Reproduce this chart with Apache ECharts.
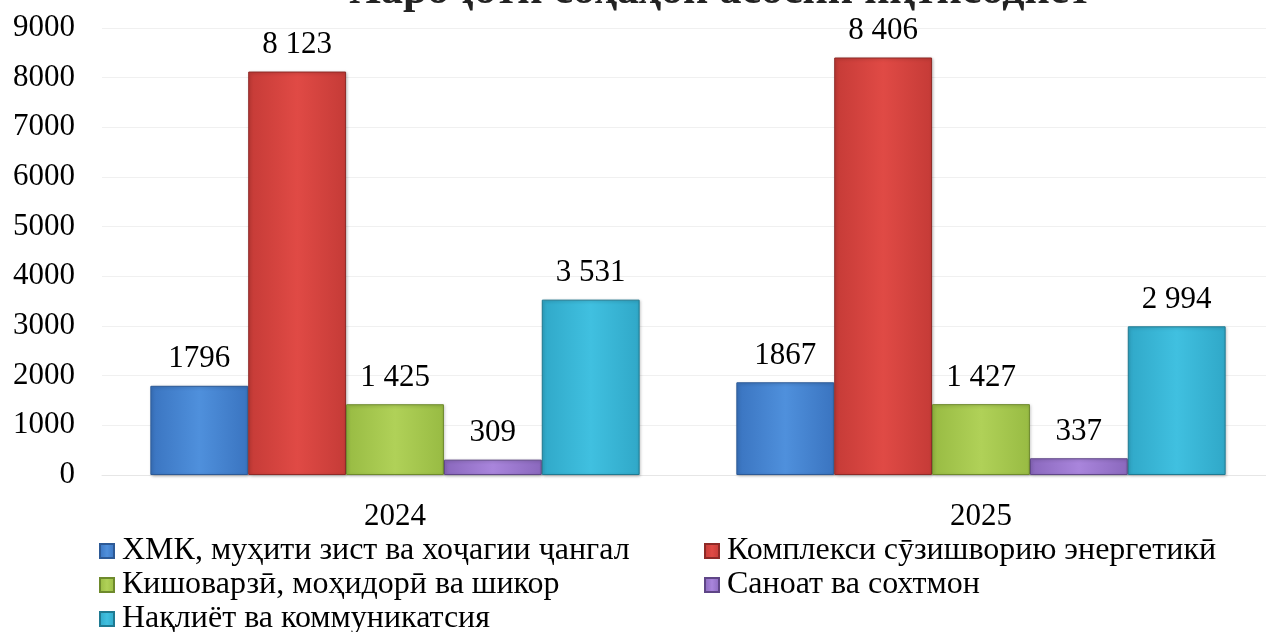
<!DOCTYPE html>
<html><head><meta charset="utf-8">
<script src="https://cdn.jsdelivr.net/npm/echarts@6/dist/echarts.min.js"></script>
<style>html,body{margin:0;padding:0;background:#fff;overflow:hidden}#c{width:1290px;height:632px}</style>
</head><body><div id="c"></div>
<script>
const titleText = 'Хароҷоти соҳаҳои асосии иқтисодиёт';
const categories = ['2024', '2025'];
const seriesNames = [
  'ХМК, муҳити зист ва хоҷагии ҷангал',
  'Комплекси сӯзишворию энергетикӣ',
  'Кишоварзӣ, моҳидорӣ ва шикор',
  'Саноат ва сохтмон',
  'Нақлиёт ва коммуникатсия'
];
const hmkValues = [1796, 1867];
const energyValues = [8123, 8406];
const agriValues = [1425, 1427];
const industryValues = [309, 337];
const transportValues = [3531, 2994];
const hmkLabels = ['1796', '1867'];
const energyLabels = ['8 123', '8 406'];
const agriLabels = ['1 425', '1 427'];
const industryLabels = ['309', '337'];
const transportLabels = ['3 531', '2 994'];
const yTicks = [0, 1000, 2000, 3000, 4000, 5000, 6000, 7000, 8000, 9000];

const colors = [
  ['#4f90dc', '#3a74c0', '#2d5a96'],
  ['#e04a45', '#c53b37', '#8e2a27'],
  ['#b0d158', '#98bb43', '#6e8a2c'],
  ['#a985dc', '#8a68bd', '#5f4687'],
  ['#40c0e0', '#30a8c8', '#1f7a92']
];
const values = [hmkValues, energyValues, agriValues, industryValues, transportValues];
const labels = [hmkLabels, energyLabels, agriLabels, industryLabels, transportLabels];
const font = '"Liberation Serif", "Times New Roman", serif';

const series = seriesNames.map((n, i) => ({
  name: n,
  type: 'bar',
  barGap: '0%',
  barCategoryGap: '16.5%',
  data: values[i],
  itemStyle: {
    color: new echarts.graphic.LinearGradient(0, 0, 1, 0, [
      {offset: 0, color: colors[i][1]},
      {offset: 0.5, color: colors[i][0]},
      {offset: 1, color: colors[i][1]}
    ]),
    borderColor: colors[i][2],
    borderWidth: 1,
    shadowColor: 'rgba(0,0,0,0.25)',
    shadowBlur: 3,
    shadowOffsetX: 1,
    shadowOffsetY: 1
  },
  label: {
    show: true,
    position: 'top',
    distance: 11,
    fontFamily: font,
    fontSize: 31,
    color: '#000',
    formatter: p => labels[i][p.dataIndex]
  }
}));

// legend placement: [seriesIndex, left, top]
const legendSlots = [[0, 99, 535], [2, 99, 569], [4, 99, 603], [1, 704, 535], [3, 704, 569]];
const legends = legendSlots.map(s => ({
  data: [seriesNames[s[0]]],
  orient: 'horizontal', left: s[1], top: s[2], padding: 0,
  icon: 'rect', itemWidth: 14, itemHeight: 14, itemGap: 0,
  textStyle: {fontFamily: font, fontSize: 32, color: '#000', padding: [0, 0, 0, 3]}
}));

const chart = echarts.init(document.getElementById('c'));
chart.setOption({
  animation: false,
  color: colors.map(c => c[1]),
  title: {
    text: titleText,
    left: 715,
    textAlign: 'center',
    top: -35,
    textStyle: {fontFamily: font, fontSize: 44, fontWeight: 'bold', color: '#222'}
  },
  legend: legends,
  grid: {left: 102, right: 16, top: 28, bottom: 157, containLabel: false},
  xAxis: {
    type: 'category',
    data: categories,
    axisLine: {show: true, lineStyle: {color: '#e6e6e6'}},
    axisTick: {show: false},
    axisLabel: {fontFamily: font, fontSize: 31, color: '#000', margin: 26}
  },
  yAxis: {
    type: 'value',
    min: yTicks[0], max: yTicks[yTicks.length - 1], interval: 1000,
    axisLine: {show: false},
    axisTick: {show: false},
    splitLine: {lineStyle: {color: '#f0f0f0'}},
    axisLabel: {fontFamily: font, fontSize: 31, color: '#000', margin: 27, formatter: v => String(v)}
  },
  series: series
});
</script></body></html>
